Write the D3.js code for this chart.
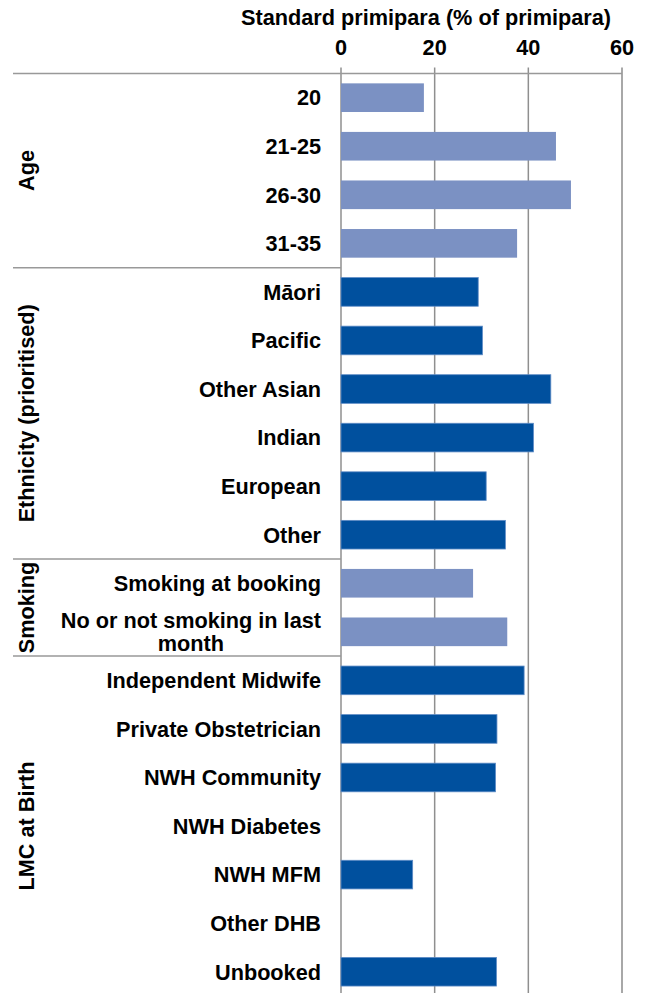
<!DOCTYPE html>
<html>
<head>
<meta charset="utf-8">
<script src="https://cdn.jsdelivr.net/npm/d3@7"></script>
<style>
  body { margin: 0; background: #fff; }
  text { font-family: "Liberation Sans", Arial, sans-serif; font-weight: bold; fill: #000; }
</style>
</head>
<body>
<div id="chart"></div>
<script>
(function () {
    var width = 649, height = 993;

    // data
    var categories = ["20", "21-25", "26-30", "31-35",
        "Māori", "Pacific", "Other Asian", "Indian", "European", "Other",
        "Smoking at booking", "No or not smoking in last month",
        "Independent Midwife", "Private Obstetrician", "NWH Community",
        "NWH Diabetes", "NWH MFM", "Other DHB", "Unbooked"];
    var values = [17.7, 45.9, 49.1, 37.6,
        29.3, 30.2, 44.8, 41.1, 31.0, 35.1,
        28.2, 35.5,
        39.1, 33.3, 33.0, null, 15.3, null, 33.2];
    var groups = ["Age", "Ethnicity (prioritised)", "Smoking", "LMC at Birth"];
    var groupSizes = [4, 6, 2, 7];
    var groupColors = ["#7b91c3", "#00509e", "#7b91c3", "#00509e"];
    var xTicks = [0, 20, 40, 60];
    var axisTitle = "Standard primipara (% of primipara)";

    // which group each row belongs to
    var rowGroup = [];
    groupSizes.forEach(function (n, g) {
        for (var i = 0; i < n; i++) rowGroup.push(g);
    });

    var left = 341, right = 622, top = 73.4, bottom = 996;
    var labelLeft = 13;
    var fs = 21.7;

    var svg = d3.select("#chart")
        .append("svg")
        .attr("width", width)
        .attr("height", height);

    var x = d3.scaleLinear().domain([0, 60]).range([left, right]);
    var y = d3.scaleBand()
        .domain(categories)
        .range([top, bottom])
        .paddingInner(0.41)
        .paddingOuter(0.205);

    // vertical gridlines
    svg.selectAll(".grid")
        .data(xTicks)
        .enter().append("line")
        .attr("class", "grid")
        .attr("x1", function (d) { return x(d); })
        .attr("x2", function (d) { return x(d); })
        .attr("y1", top - 6)
        .attr("y2", height)
        .attr("stroke", function (d) { return d === 60 ? "#a8a8a8" : "#8f8f8f"; })
        .attr("stroke-width", function (d) { return d === 60 ? 2 : 1.5; });

    // top axis line running across the label area too
    svg.append("line")
        .attr("x1", labelLeft).attr("x2", right)
        .attr("y1", top).attr("y2", top)
        .attr("stroke", "#999").attr("stroke-width", 1.5);

    // group separators
    var cum = 0;
    var groupBounds = groupSizes.map(function (n) {
        var start = y.step() * cum + top;
        cum += n;
        return [start, y.step() * cum + top];
    });
    svg.selectAll(".sep")
        .data(groupBounds.slice(1))
        .enter().append("line")
        .attr("class", "sep")
        .attr("x1", labelLeft).attr("x2", left)
        .attr("y1", function (d) { return d[0]; })
        .attr("y2", function (d) { return d[0]; })
        .attr("stroke", "#999").attr("stroke-width", 1.5);

    // bars
    svg.selectAll(".bar")
        .data(categories)
        .enter().filter(function (d, i) { return values[i] != null; })
        .append("rect")
        .attr("class", "bar")
        .attr("x", x(0))
        .attr("y", function (d) { return y(d); })
        .attr("width", function (d) { return x(values[categories.indexOf(d)]) - x(0); })
        .attr("height", y.bandwidth())
        .attr("fill", function (d) { return groupColors[rowGroup[categories.indexOf(d)]]; })
        .attr("stroke", function (d) {
            var g = rowGroup[categories.indexOf(d)];
            return groupColors[g] === "#00509e" ? "#5f8cc6" : "none";
        })
        .attr("stroke-width", 0.8);

    // tick labels
    svg.selectAll(".tick-label")
        .data(xTicks)
        .enter().append("text")
        .attr("class", "tick-label")
        .attr("x", function (d) { return x(d); })
        .attr("y", 55)
        .attr("text-anchor", "middle")
        .attr("font-size", fs)
        .text(function (d) { return d; });

    svg.append("text")
        .attr("x", 426)
        .attr("y", 25)
        .attr("text-anchor", "middle")
        .attr("font-size", fs)
        .text(axisTitle);

    // category labels, the long one wraps to two centred lines
    var labelRight = 321;
    categories.forEach(function (c) {
        var cy = y(c) + y.bandwidth() / 2;
        if (c === "No or not smoking in last month") {
            var t1 = svg.append("text")
                .attr("x", labelRight).attr("y", cy - 4)
                .attr("text-anchor", "end")
                .attr("font-size", fs)
                .text("No or not smoking in last");
            var w = t1.node().getComputedTextLength();
            svg.append("text")
                .attr("x", labelRight - w / 2).attr("y", cy + 19.5)
                .attr("text-anchor", "middle")
                .attr("font-size", fs)
                .text("month");
        } else {
            svg.append("text")
                .attr("x", labelRight).attr("y", cy)
                .attr("dy", "0.36em")
                .attr("text-anchor", "end")
                .attr("font-size", fs)
                .text(c);
        }
    });

    // rotated group labels
    svg.selectAll(".group-label")
        .data(groups)
        .enter().append("text")
        .attr("class", "group-label")
        .attr("text-anchor", "middle")
        .attr("font-size", fs)
        .attr("transform", function (d, i) {
            var mid = (groupBounds[i][0] + groupBounds[i][1]) / 2;
            return "translate(34," + mid + ") rotate(-90)";
        })
        .text(function (d) { return d; });
})();
</script>
</body>
</html>
